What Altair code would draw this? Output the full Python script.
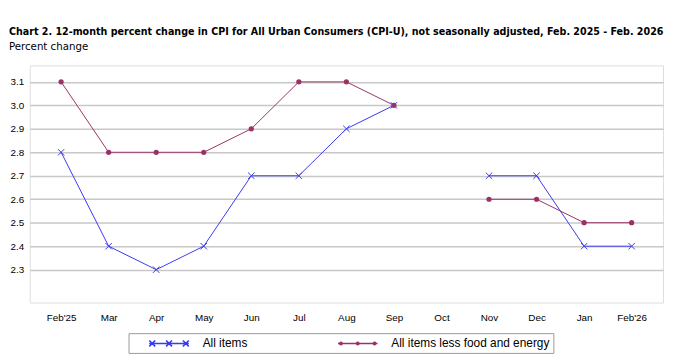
import altair as alt
import pandas as pd

months = ["Feb'25", "Mar", "Apr", "May", "Jun", "Jul", "Aug", "Sep", "Oct",
          "Nov", "Dec", "Jan", "Feb'26"]
all_items = [2.8, 2.4, 2.3, 2.4, 2.7, 2.7, 2.9, 3.0, None, 2.7, 2.7, 2.4, 2.4]
core = [3.1, 2.8, 2.8, 2.8, 2.9, 3.1, 3.1, 3.0, None, 2.6, 2.6, 2.5, 2.5]
series_names = ["All items", "All items less food and energy"]
series_colors = ["#3a3af0", "#993366"]
y_ticks = [2.3, 2.4, 2.5, 2.6, 2.7, 2.8, 2.9, 3.0, 3.1]

rows = []
for name, vals in zip(series_names, [all_items, core]):
    seg = 0
    for m, v in zip(months, vals):
        if v is None:
            seg += 1
            continue
        rows.append({"month": m, "value": v, "series": name, "seg": f"{name}-{seg}"})
df = pd.DataFrame(rows)

FONT = "Liberation Sans"
TFONT = "'DejaVu Sans Condensed', 'Liberation Sans'"
color_scale = alt.Scale(domain=series_names, range=series_colors)

x = alt.X("month:N", sort=months, scale=alt.Scale(domain=months, type="point", padding=0.66),
          axis=alt.Axis(title=None, labelAngle=0, ticks=False, labelPadding=10, domain=False))
y = alt.Y("value:Q", scale=alt.Scale(domain=[2.16, 3.17], nice=False, zero=False),
          axis=alt.Axis(title=None, values=y_ticks, ticks=False, labelPadding=6, domain=False,
                        gridColor="#c8c8c8", gridWidth=1.5, format=".1f"))

X_MARK = "M-1,-1L1,1M-1,1L1,-1"
# legend glyphs: line with three markers (units of 6px)
PATH_X = ("M1.833,0L8.5,0"
          "M1.833,-0.5L2.833,0.5M1.833,0.5L2.833,-0.5"
          "M4.667,-0.5L5.667,0.5M4.667,0.5L5.667,-0.5"
          "M7.5,-0.5L8.5,0.5M7.5,0.5L8.5,-0.5")
PATH_DOT = ("M1.833,0L8.5,0"
            "M2.533,0A0.2,0.2,0,1,1,2.133,0A0.2,0.2,0,1,1,2.533,0Z"
            "M5.367,0A0.2,0.2,0,1,1,4.967,0A0.2,0.2,0,1,1,5.367,0Z"
            "M8.2,0A0.2,0.2,0,1,1,7.8,0A0.2,0.2,0,1,1,8.2,0Z")

legend = alt.Legend(
    title=None, orient="none", legendX=100, legendY=271, direction="horizontal",
    symbolSize=144, symbolStrokeWidth=1.6, symbolOpacity=1, labelFont=FONT, labelFontSize=12,
    labelColor="#000", labelOffset=58, columnPadding=73, padding=3, labelLimit=400,
    strokeColor="#999999", fillColor="white",
    labelExpr="datum.label + '\u00a0\u00a0\u00a0\u00a0\u00a0\u00a0'",
)

lines = alt.Chart(df).mark_line(strokeWidth=1).encode(
    x=x, y=y,
    color=alt.Color("series:N", scale=color_scale, legend=legend),
    detail="seg:N",
)
crosses = alt.Chart(df).transform_filter(alt.datum.series == "All items").mark_point(
    shape=X_MARK, filled=False, size=42, strokeWidth=1, opacity=1, color=series_colors[0]
).encode(x=x, y=y)
dots = alt.Chart(df).transform_filter(alt.datum.series != "All items").mark_point(
    shape="circle", filled=True, size=28, opacity=1, color=series_colors[1]
).encode(x=x, y=y)
legend_layer = alt.Chart(df).mark_point(filled=False, opacity=0, strokeWidth=1).encode(
    x=x, y=y,
    color=alt.Color("series:N", scale=color_scale, legend=legend),
    shape=alt.Shape("series:N", scale=alt.Scale(domain=series_names, range=[PATH_X, PATH_DOT]),
                    legend=legend),
)

chart = alt.layer(lines, crosses, dots, legend_layer).properties(
    width=641, height=240,
    autosize=alt.AutoSizeParams(type="none"),
    padding={"left": 22, "top": 56, "right": 2, "bottom": 53},
    title=alt.TitleParams(
        text="Chart 2. 12-month percent change in CPI for All Urban Consumers (CPI-U), not seasonally adjusted, Feb. 2025 - Feb. 2026",
        subtitle="Percent change",
        anchor="start", frame="group", dx=-21, offset=12,
        font=TFONT, fontSize=10.75, fontWeight="bold", color="#000",
        subtitleFont=TFONT, subtitleFontSize=11.5, subtitleColor="#000",
        subtitlePadding=4,
    ),
).configure_view(stroke="#8c8c8c", strokeWidth=1).configure_axis(
    labelFont=FONT, labelFontSize=11, labelColor="#000"
).configure(background="white")

chart.save("out.html", embed_options={"renderer": "svg", "actions": False})
